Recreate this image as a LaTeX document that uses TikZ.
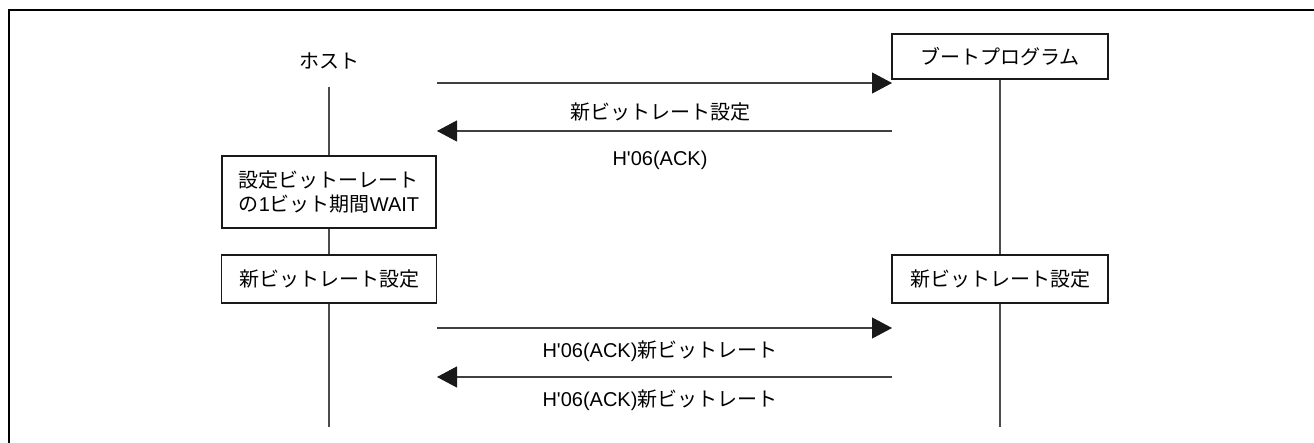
\documentclass[tikz,border=0pt]{standalone}
\usepackage{fontspec}
\newfontfamily\lat{Liberation Sans}
\newfontfamily\jp{Noto Sans CJK JP}
\usetikzlibrary{arrows.meta}
\tikzset{
  every node/.style={font=\lat\fontsize{20}{24}\selectfont, inner sep=0pt},
  procbox/.style={draw=black!90, line width=1.5pt, fill=white, align=left},
  life/.style={draw=black!70, line width=1.1pt},
  msg/.style={draw=black!75, line width=1.1pt, -{Triangle[length=20pt,width=21pt,color=black!90,fill=black!90]}},
  frameline/.style={draw=black, line width=2.2pt}
}
\begin{document}
\begin{tikzpicture}[x=1pt, y=-1pt]
\useasboundingbox (0,0) rectangle (1314,443);
\draw[frameline] (9,443) -- (9,10) -- (1314,10);

% participants
\node (host) at (329,61) {\jp ホスト};
\node[procbox, minimum width=216pt, minimum height=45pt] (boot) at (1000,56.5) {\jp ブートプログラム};

% boxes
\node[procbox, minimum width=214pt, minimum height=72pt] (wait) at (329,192)
  {{\jp 設定ビットーレート}\\{\jp の}1{\jp ビット期間}WAIT};
\node[procbox, minimum width=215pt, minimum height=48pt] (hset) at (329,279) {\jp 新ビットレート設定};
\node[procbox, minimum width=216pt, minimum height=48pt] (bset) at (1000,279) {\jp 新ビットレート設定};

% lifeline anchors
\coordinate (htop) at (329,87);
\coordinate (hend) at (329,427);
\coordinate (bend) at (1000,427);

\draw[life] (htop) -- (wait.north);
\draw[life] (wait.south) -- (hset.north);
\draw[life] (hset.south) -- (hend);
\draw[life] (boot.south) -- (bset.north);
\draw[life] (bset.south) -- (bend);

% messages
\coordinate (m1a) at (437,83);  \coordinate (m1b) at (892,83);
\coordinate (m2a) at (892,131); \coordinate (m2b) at (437,131);
\coordinate (m3a) at (437,328); \coordinate (m3b) at (892,328);
\coordinate (m4a) at (892,377); \coordinate (m4b) at (437,377);

\draw[msg] (m1a) -- (m1b);
\draw[msg] (m2a) -- (m2b);
\draw[msg] (m3a) -- (m3b);
\draw[msg] (m4a) -- (m4b);

\node (l1) at (660,112) {\jp 新ビットレート設定};
\node (l2) at (660,160) {H'06(ACK)};
\node (l3) at (660,351) {H'06(ACK){\jp 新ビットレート}};
\node (l4) at (660,400) {H'06(ACK){\jp 新ビットレート}};
\end{tikzpicture}
\end{document}
